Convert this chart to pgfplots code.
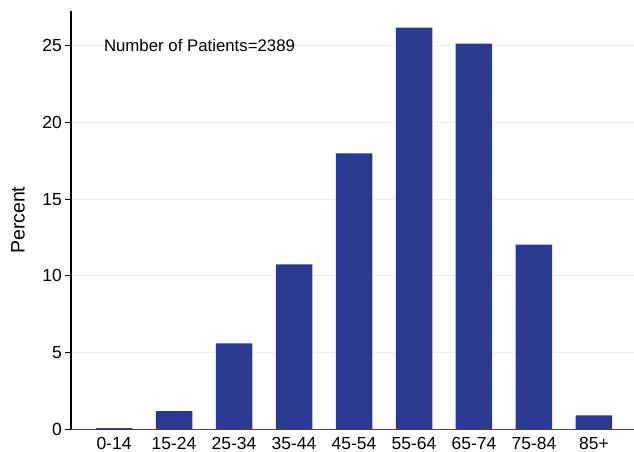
\documentclass[border=0pt]{standalone}
\usepackage{pgfplots}
\pgfplotsset{compat=1.18}
\usepackage{fontspec}
\setmainfont{Liberation Sans}
\definecolor{barblue}{RGB}{44,57,144}
\definecolor{gridc}{RGB}{232,240,242}
\begin{document}
\begin{tikzpicture}
\useasboundingbox (-71pt,-22.5pt) rectangle (563pt,429.4pt);
\begin{axis}[
  at={(0,0)}, anchor=south west,
  scale only axis,
  width=563pt, height=418.4pt,
  xmin=-0.717, xmax=8.667,
  ymin=0, ymax=27.25,
  axis lines*=left,
  x axis line style={draw={rgb,255:red,70;green,70;blue,70}, line width=1.2pt, -},
  y axis line style={draw=black, line width=1.1pt, -},
  xtick=data,
  xticklabels={0-14,15-24,25-34,35-44,45-54,55-64,65-74,75-84,85+},
  ytick={0,5,10,15,20,25},
  ymajorgrids,
  grid style={draw=gridc, line width=1pt},
  major x tick style={draw=none},
  major y tick style={draw=black, line width=0.8pt},
  tick align=outside,
  major tick length=6pt,
  tick label style={font=\fontsize{17.5}{20}\selectfont},
  /pgf/number format/assume math mode=true,
  yticklabel style={inner sep=0pt, xshift=-3pt},
  xticklabel style={inner sep=0pt, yshift=-1.6pt},
  ybar, bar width=36.5pt, bar shift=0pt,
  clip=false,
]
\addplot[fill=barblue, draw=none] coordinates {
 (0,0.08) (1,1.19) (2,5.6) (3,10.74) (4,17.97) (5,26.17) (6,25.13) (7,12.04) (8,0.91)
};
\node[anchor=base west, inner sep=0pt, font=\fontsize{16.8}{20}\selectfont] at (axis cs:-0.17,24.62) {Number of Patients=2389};
\node[rotate=90, inner sep=0pt, font=\fontsize{19.5}{22}\selectfont] at ([xshift=-53pt]rel axis cs:0,0.5) {Percent};
\end{axis}
\end{tikzpicture}
\end{document}
